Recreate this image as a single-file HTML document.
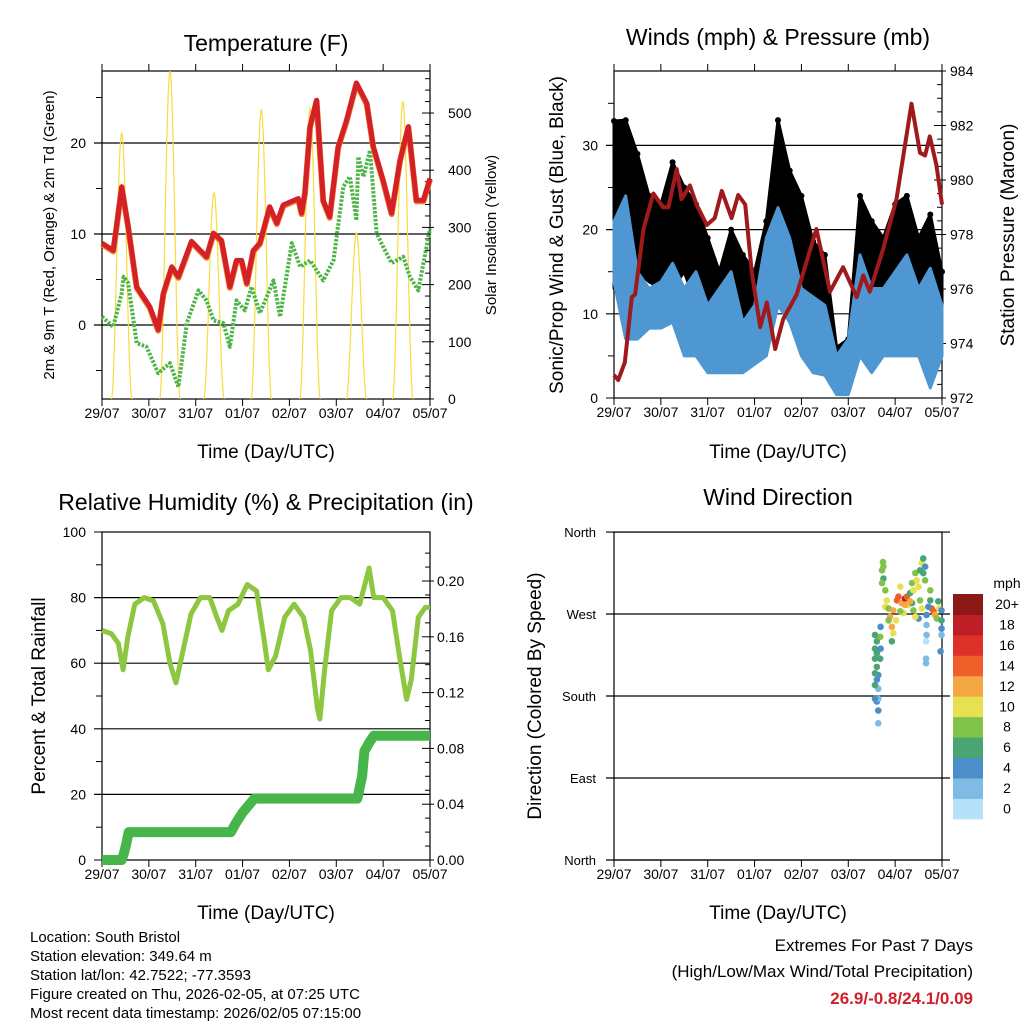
<!DOCTYPE html>
<html><head><meta charset="utf-8"><style>
body{margin:0;background:#fff;}
svg{display:block;font-family:"Liberation Sans",sans-serif;}
</style></head><body>
<svg id="c" width="1024" height="1024" viewBox="0 0 1024 1024">
<rect width="1024" height="1024" fill="#fff"/>
<text x="266" y="51" font-size="23" text-anchor="middle">Temperature (F)</text>
<text x="778" y="45" font-size="23" text-anchor="middle">Winds (mph) &amp; Pressure (mb)</text>
<text x="266" y="510" font-size="23" text-anchor="middle">Relative Humidity (%) &amp; Precipitation (in)</text>
<text x="778" y="505" font-size="23" text-anchor="middle">Wind Direction</text>
<text transform="translate(54,235) rotate(-90)" font-size="15" text-anchor="middle">2m &amp; 9m T (Red, Orange) &amp; 2m Td (Green)</text>
<text transform="translate(496,235) rotate(-90)" font-size="15" text-anchor="middle">Solar Insolation (Yellow)</text>
<text transform="translate(563,235) rotate(-90)" font-size="19" text-anchor="middle">Sonic/Prop Wind &amp; Gust (Blue, Black)</text>
<text transform="translate(1014,235) rotate(-90)" font-size="19" text-anchor="middle">Station Pressure (Maroon)</text>
<text transform="translate(45,696) rotate(-90)" font-size="19" text-anchor="middle">Percent &amp; Total Rainfall</text>
<text transform="translate(541,696) rotate(-90)" font-size="19" text-anchor="middle">Direction (Colored By Speed)</text>
<text x="266" y="458" font-size="19" text-anchor="middle">Time (Day/UTC)</text>
<text x="778" y="458" font-size="19" text-anchor="middle">Time (Day/UTC)</text>
<text x="266" y="919" font-size="19" text-anchor="middle">Time (Day/UTC)</text>
<text x="778" y="919" font-size="19" text-anchor="middle">Time (Day/UTC)</text>
<g font-size="15">
<text x="30" y="942">Location: South Bristol</text>
<text x="30" y="961">Station elevation: 349.64 m</text>
<text x="30" y="980">Station lat/lon: 42.7522; -77.3593</text>
<text x="30" y="999">Figure created on Thu, 2026-02-05, at 07:25 UTC</text>
<text x="30" y="1018">Most recent data timestamp: 2026/02/05 07:15:00</text>
</g>
<text x="973" y="951" font-size="17" text-anchor="end">Extremes For Past 7 Days</text>
<text x="973" y="977" font-size="17" text-anchor="end">(High/Low/Max Wind/Total Precipitation)</text>
<text x="973" y="1004" font-size="17" font-weight="bold" fill="#d0202a" text-anchor="end">26.9/-0.8/24.1/0.09</text>
<g id="plots"></g>
</svg>
<script>
const dayLabels=["29/07","30/07","31/07","01/07","02/07","03/07","04/07","05/07"];
const tempTimes=[0,0.24,0.31,0.42,0.56,0.74,1.02,1.2,1.31,1.49,1.63,1.91,2.23,2.38,2.55,2.73,2.87,2.98,3.09,3.23,3.37,3.58,3.73,3.87,4.19,4.26,4.33,4.44,4.58,4.72,4.86,5.04,5.22,5.43,5.65,5.79,6.0,6.18,6.36,6.54,6.71,6.86,7.0];
const tempValues=[9.0,8.2,10.8,15.2,10.8,4.2,2.0,-0.5,3.5,6.4,5.3,9.2,7.5,10.1,9.3,4.2,7.1,7.1,4.6,8.2,9.0,13.0,11.2,13.2,13.9,12.3,14.5,21.8,24.7,13.7,11.9,19.6,22.5,26.6,24.4,19.6,15.9,12.3,18.1,21.8,13.7,13.7,16.1];
const dewTimes=[0,0.24,0.42,0.46,0.56,0.74,0.95,1.2,1.45,1.63,1.81,2.06,2.23,2.38,2.59,2.73,2.87,3.05,3.19,3.37,3.66,3.8,4.05,4.23,4.44,4.72,4.94,5.15,5.29,5.43,5.47,5.58,5.72,5.86,6.0,6.18,6.43,6.57,6.75,7.0];
const dewValues=[0.9,-0.2,3.5,5.3,4.6,-2.0,-2.4,-5.3,-4.2,-6.8,0.2,3.8,2.7,0.5,0.2,-2.4,2.7,1.6,4.2,1.3,4.9,0.9,9.0,6.4,7.1,4.9,7.1,15.2,16.3,11.5,18.5,16.3,19.2,10.1,8.6,6.8,7.5,5.3,3.8,10.6];
const solarNoon=[0.42,1.45,2.39,3.4,4.44,5.43,6.42];
const solarPeak=[465,573,360,505,508,290,520];
const pressTimes=[0,0.09,0.23,0.38,0.45,0.63,0.84,1.05,1.16,1.34,1.44,1.62,1.76,1.98,2.15,2.3,2.51,2.65,2.8,2.94,3.12,3.26,3.44,3.61,3.9,4.32,4.61,4.89,5.18,5.32,5.46,5.75,6.03,6.35,6.53,6.64,6.74,6.88,7.0];
const pressValues=[972.84,972.66,973.3,975.7,975.8,978.2,979.5,979.0,979.0,980.4,979.3,979.8,979.1,978.35,978.6,979.6,978.6,979.45,979.1,976.6,974.6,975.5,973.8,974.9,975.8,978.2,975.9,976.8,975.7,976.5,975.9,977.5,979.3,982.8,981.0,980.9,981.6,980.55,979.1];
const windTimes=[0,0.25,0.5,0.75,1,1.25,1.5,1.75,2,2.25,2.5,2.75,3,3.25,3.5,3.75,4,4.25,4.5,4.75,5,5.25,5.5,5.75,6,6.25,6.5,6.75,7];
const gustMax=[32.9,33,29,24,23,28,25,23,19,15,20,17,15,21,33,27,24,18.6,17,6,7,24,21,19,23,24,19,21.8,15];
const gustMin=[13,21,15,13.8,13,13,15,11,9,6.3,9,7,7,7,15,13,10,9,7,2,2,9,9,8.3,9,9,7,5,7];
const windMax=[21,24,15,13,13.8,16,13,15,11,13,15,9,11,19,22.6,19,13,12,11,5,7,17,13,13,15,17,13,15.4,11];
const windMin=[13.8,7,7,8.3,8.3,9,5,5,3,3,3,3,4,5,11,9,5,3,2.7,0.4,0.4,5,3,5,5,5,5,1.2,5];
const rhTimes=[0,0.2,0.35,0.45,0.55,0.7,0.9,1.1,1.3,1.45,1.58,1.7,1.9,2.1,2.3,2.45,2.56,2.7,2.9,3.1,3.3,3.45,3.55,3.7,3.9,4.1,4.3,4.45,4.6,4.65,4.75,4.9,5.1,5.3,5.5,5.7,5.8,6.0,6.2,6.35,6.5,6.6,6.75,6.9,7.0];
const rhValues=[70,69,66,58,68,78,80,79,72,60,54,62,75,80,80,74,70,76,78,84,82,68,58,62,74,78,74,64,46,43,58,76,80,80,78,89,80,80,76,62,49,55,74,77,77];
const precipTimes=[0,0.42,0.47,0.52,0.57,2.75,2.85,3.0,3.25,5.45,5.5,5.55,5.6,5.7,5.8,7.0];
const precipValues=[0,0,0.005,0.012,0.02,0.02,0.026,0.034,0.044,0.044,0.052,0.06,0.078,0.084,0.089,0.089];
const dirTimes=[5.64,5.64,5.61,5.64,5.57,5.64,5.57,5.61,5.64,5.57,5.61,5.57,5.61,5.57,5.61,5.68,5.57,5.69,5.69,5.68,5.72,5.74,5.75,5.75,5.72,5.79,5.82,5.79,5.86,5.89,5.93,5.96,5.93,5.86,5.96,6.04,6.07,6.11,6.14,6.21,6.25,6.28,6.32,6.36,6.39,6.43,6.46,6.50,6.53,6.57,6.60,6.64,6.60,6.64,6.53,6.57,6.50,6.43,6.39,6.36,6.67,6.67,6.67,6.66,6.66,6.66,6.75,6.75,6.78,6.82,6.85,6.89,6.92,6.94,6.99,6.99,6.99,6.99,6.97,6.71,6.18,6.11,6.02,6.21,6.32];
const dirDegrees=[150,164,174,177,177,188,192,198,203,205,212,221,227,232,240,245,247,256,232,221,318,327,322,309,304,296,285,278,276,267,256,249,240,263,274,285,289,300,282,287,289,280,293,304,296,315,307,300,318,326,331,322,315,307,285,276,265,267,274,282,269,258,247,240,221,216,296,285,276,273,269,265,284,276,274,263,254,247,229,278,271,273,263,280,284];
const dirSpeeds=[2,4,4,2,4,2,6,4,4,6,6,6,6,6,6,8,6,4,4,6,8,8,8,6,8,8,10,10,8,12,12,10,6,8,12,14,14,10,12,18,14,10,6,8,10,8,10,10,6,10,6,4,6,8,8,10,4,10,8,6,4,2,2,0,2,2,8,6,14,14,12,8,6,10,4,6,4,2,4,4,10,8,10,12,12];
const speedLabels=["0","2","4","6","8","10","12","14","16","18","20+"];
const speedColors=["#b5e2f8","#7fbbe4","#4a8fc7","#4aa574","#80c24a","#e6e053","#f5a842","#ee5f2a","#de3229","#be1e25","#8c1818"];

const NS="http://www.w3.org/2000/svg";
const root=document.getElementById('plots');
function mk(tag,attrs,parent){const e=document.createElementNS(NS,tag);for(const k in attrs)e.setAttribute(k,attrs[k]);(parent||root).appendChild(e);return e;}
function pathFrom(xs,ys){return xs.map((x,i)=>(i?'L':'M')+x.toFixed(1)+','+ys[i].toFixed(1)).join('');}

const panels={
 temp:{x0:102,x1:430,y0:71,y1:399},
 wind:{x0:614,x1:942,y0:71,y1:398},
 rh:{x0:102,x1:430,y0:532,y1:860},
 dir:{x0:614,x1:942,y0:532,y1:860}
};
function xs(p,d){return p.x0+d*(p.x1-p.x0)/7;}
const P1=panels.temp,P2=panels.wind,P3=panels.rh,P4=panels.dir;
const yT=v=>325-v*9.1, ySol=s=>399-s*0.572;
const yW=v=>398-v*8.42, yP=p=>398-(p-972)*27.25;
const yRH=v=>860-v*3.28, yPr=p=>860-p*1395;
const yD=d=>860-d*0.911;

function frame(p,name,top){
 let g=mk('g',{});
 
 
 let r=mk('rect',{x:p.x0,y:p.y0,width:p.x1-p.x0,height:p.y1-p.y0,fill:'none',stroke:'#000','stroke-width':1.2},g);
 
 
 for(let i=0;i<8;i++){
  const x=xs(p,i);
  mk('line',{x1:x,x2:x,y1:p.y1,y2:p.y1+7,stroke:'#000'},g);
  if(top)mk('line',{x1:x,x2:x,y1:p.y0,y2:p.y0-7,stroke:'#000'},g);
  let t=mk('text',{x:x,y:p.y1+19,'font-size':14,'text-anchor':'middle'},g);
  t.textContent=dayLabels[i];
  
  
 }
 return g;
}
function grid(p,y,g,ext){let l=mk('line',{x1:p.x0-ext,x2:p.x1,y1:y,y2:y,stroke:'#000','stroke-width':1.2},g);
 
 }
function lab(x,y,s,anchor,g,fs){let t=mk('text',{x:x,y:y+5,'font-size':fs||14,'text-anchor':anchor},g);t.textContent=s;
 
 }
function tick(x1,x2,y,g){mk('line',{x1:x1,x2:x2,y1:y,y2:y,stroke:'#000'},g);}

// ---------- Panel 1 temperature ----------
{
 const g=frame(P1,'temperature',true);
 for(let v=-5;v<=25;v+=5){const y=yT(v); if(v%10===0){grid(P1,y,g,8);lab(P1.x0-16,y,String(v),'end',g);} else tick(P1.x0-6,P1.x0,y,g);}
 for(let s=0;s<=560;s+=20){const y=ySol(s);if(y<P1.y0)continue; if(s%100===0){tick(P1.x1-8,P1.x1+4,y,g);lab(P1.x1+18,y,String(s),'start',g);} else tick(P1.x1-5,P1.x1,y,g);}
 const cp=mk('clipPath',{id:'clip1'});mk('rect',{x:P1.x0,y:P1.y0,width:328,height:328},cp);
 const sol=mk('g',{'clip-path':'url(#clip1)'});
 
 
 solarNoon.forEach((c,i)=>{
  const X=[],Y=[];
  for(let k=-24;k<=24;k++){const t=c+k*0.22/24;const f=Math.cos(Math.PI*k/48);X.push(xs(P1,t));Y.push(ySol(solarPeak[i]*Math.pow(f,2)));}
  let pth=mk('path',{d:pathFrom(X,Y),fill:'none',stroke:'#f8dc3c','stroke-width':1.2},sol);
  
  
 });
 let o=mk('path',{d:pathFrom(tempTimes.map(t=>xs(P1,t)),tempValues.map(v=>yT(v)+1)),fill:'none',stroke:'#f07f2a','stroke-width':6,'stroke-linejoin':'round'});
 
 
 let dw=mk('path',{d:pathFrom(dewTimes.map(t=>xs(P1,t)),dewValues.map(yT)),fill:'none',stroke:'#4db548','stroke-width':4,'stroke-dasharray':'2.5 1.5','stroke-linejoin':'round'});
 
 
 let rd=mk('path',{d:pathFrom(tempTimes.map(t=>xs(P1,t)),tempValues.map(yT)),fill:'none',stroke:'#d42027','stroke-width':5,'stroke-linejoin':'round'});
 
 
}

// ---------- Panel 2 winds ----------
{
 const g=frame(P2,'winds',true);
 for(let v=0;v<=35;v+=5){const y=yW(v); if(v%10===0){ if(v>0)grid(P2,y,g,8); else tick(P2.x0-8,P2.x0,y,g); lab(P2.x0-16,y,String(v),'end',g);} else tick(P2.x0-6,P2.x0,y,g);}
 for(let p=972;p<=984;p+=0.5){const y=yP(p); if(p%2===0){tick(P2.x1-8,P2.x1+4,y,g);lab(P2.x1+8,y,String(p),'start',g);} else tick(P2.x1-5,P2.x1,y,g);}
 const X=windTimes.map(t=>xs(P2,t));
 let gb=mk('path',{d:pathFrom(X.concat(X.slice().reverse()),gustMax.map(yW).concat(gustMin.map(yW).reverse()))+'Z',fill:'#000',stroke:'#000','stroke-width':3,'stroke-linejoin':'round'});
 
 
 windTimes.forEach((t,i)=>{let c=mk('circle',{cx:xs(P2,t),cy:yW(gustMax[i]),r:3,fill:'#000'});
  
  });
 let wb=mk('path',{d:pathFrom(X.concat(X.slice().reverse()),windMax.map(yW).concat(windMin.map(yW).reverse()))+'Z',fill:'#4f97d2',stroke:'#4f97d2','stroke-width':3,'stroke-linejoin':'round'});
 
 
 let pr=mk('path',{d:pathFrom(pressTimes.map(t=>xs(P2,t)),pressValues.map(yP)),fill:'none',stroke:'#a01a1d','stroke-width':4,'stroke-linejoin':'round'});
 
 
}

// ---------- Panel 3 RH ----------
{
 const g=frame(P3,'humidity',false);
 for(let v=0;v<=100;v+=10){const y=yRH(v); if(v%20===0){ if(v>0&&v<100)grid(P3,y,g,8); else tick(P3.x0-8,P3.x0,y,g); lab(P3.x0-16,y,String(v),'end',g);} else tick(P3.x0-6,P3.x0,y,g);}
 for(let k=0;k<=22;k++){const p=k/100;const y=yPr(p); if(k%4===0){tick(P3.x1-8,P3.x1+4,y,g);lab(P3.x1+7,y,p.toFixed(2),'start',g);} else tick(P3.x1-5,P3.x1,y,g);}
 let rh=mk('path',{d:pathFrom(rhTimes.map(t=>xs(P3,t)),rhValues.map(yRH)),fill:'none',stroke:'#8dc63f','stroke-width':5,'stroke-linejoin':'round'});
 
 
 let pc=mk('path',{d:pathFrom(precipTimes.map(t=>xs(P3,t)),precipValues.map(yPr)),fill:'none',stroke:'#47b64a','stroke-width':10,'stroke-linejoin':'round'});
 
 
}

// ---------- Panel 4 direction ----------
{
 const g=frame(P4,'direction',false);
 const dn=["North","East","South","West","North"];
 for(let k=0;k<=4;k++){const y=yD(k*90);let l=mk('line',{x1:P4.x0-8,x2:P4.x1+8,y1:y,y2:y,stroke:'#000','stroke-width':1.2},g);
  
  
  lab(P4.x0-18,y,dn[k],'end',g,13);}
 dirTimes.forEach((t,i)=>{const b=Math.min(10,Math.floor(dirSpeeds[i]/2));
  let c=mk('circle',{cx:xs(P4,t),cy:yD(dirDegrees[i]),r:3.3,fill:speedColors[b]});
  
  });
 const lg=mk('g',{});
 
 
 let t=mk('text',{x:1007,y:588,'font-size':14,'text-anchor':'middle'},lg);t.textContent='mph';
 
 
 for(let k=0;k<11;k++){const y=594+(10-k)*20.45;
  let r=mk('rect',{x:953,y:y,width:30,height:20.9,fill:speedColors[k]},lg);
  
  
  let tl=mk('text',{x:1007,y:y+15,'font-size':14,'text-anchor':'middle'},lg);tl.textContent=speedLabels[k];
  
  }
}
</script>
</body></html>
